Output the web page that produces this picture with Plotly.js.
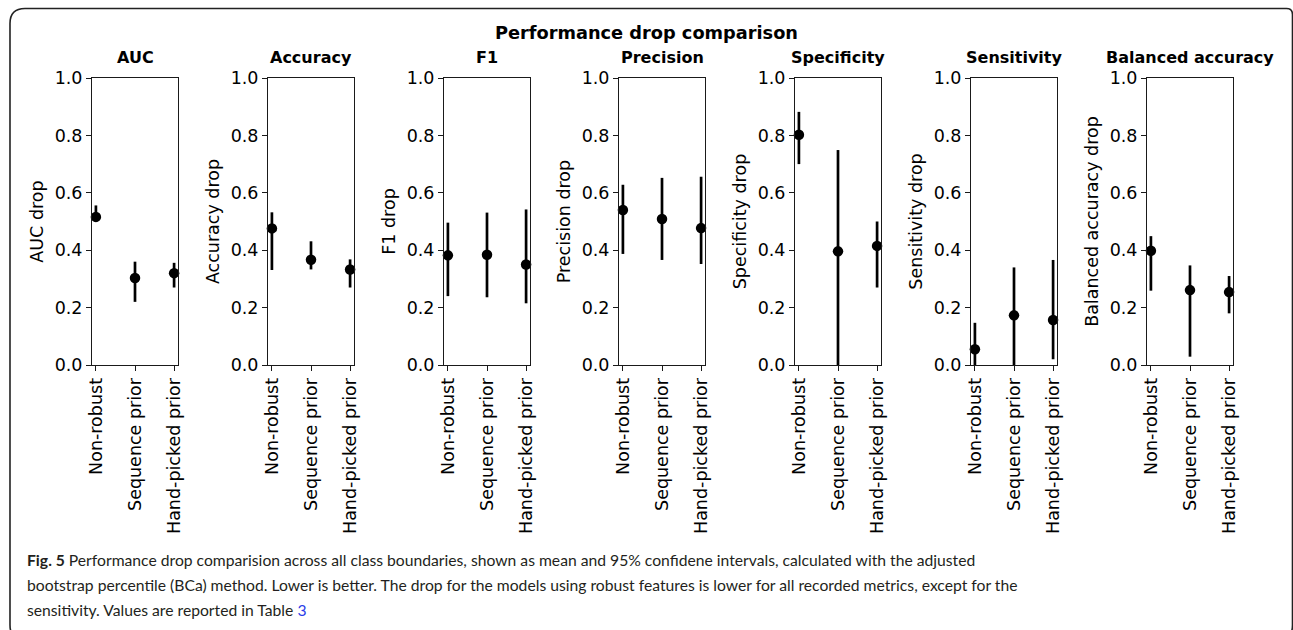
<!DOCTYPE html>
<html>
<head>
<meta charset="utf-8">
<script src="https://cdn.plot.ly/plotly-3.0.1.min.js"></script>
<style>html,body{margin:0;padding:0;background:#fff;}#chart{width:1293px;height:630px;}</style>
</head>
<body>
<div id="chart"></div>
<script>
// ---- Data ----
const categories = ["Non-robust", "Sequence prior", "Hand-picked prior"];
const metricNames = ["AUC", "Accuracy", "F1", "Precision", "Specificity", "Sensitivity", "Balanced accuracy"];
const yTitles = ["AUC drop", "Accuracy drop", "F1 drop", "Precision drop", "Specificity drop", "Sensitivity drop", "Balanced accuracy drop"];

const aucMean = [0.516, 0.303, 0.320];
const aucLow  = [0.500, 0.220, 0.270];
const aucHigh = [0.556, 0.360, 0.356];

const accMean = [0.476, 0.367, 0.333];
const accLow  = [0.331, 0.333, 0.270];
const accHigh = [0.532, 0.431, 0.368];

const f1Mean = [0.382, 0.384, 0.350];
const f1Low  = [0.240, 0.236, 0.215];
const f1High = [0.496, 0.531, 0.542];

const precMean = [0.540, 0.509, 0.477];
const precLow  = [0.387, 0.366, 0.352];
const precHigh = [0.628, 0.652, 0.656];

const specMean = [0.802, 0.396, 0.415];
const specLow  = [0.700, 0.000, 0.270];
const specHigh = [0.882, 0.749, 0.500];

const sensMean = [0.055, 0.173, 0.157];
const sensLow  = [0.000, 0.000, 0.020];
const sensHigh = [0.147, 0.340, 0.366];

const balMean = [0.398, 0.261, 0.254];
const balLow  = [0.259, 0.029, 0.180];
const balHigh = [0.449, 0.347, 0.310];

const yTickVals = [0, 0.2, 0.4, 0.6, 0.8, 1.0];
const yTickText = ["0.0", "0.2", "0.4", "0.6", "0.8", "1.0"];

const mainTitle = "Performance drop comparison";
const captionLines = [
  "<b>Fig. 5</b> Performance drop comparision across all class boundaries, shown as mean and 95% confidene intervals, calculated with the adjusted",
  "bootstrap percentile (BCa) method. Lower is better. The drop for the models using robust features is lower for all recorded metrics, except for the",
  "sensitivity. Values are reported in Table <span style=\"color:#2b3de8\">3</span>"
];

// ---- Build ----
const W = 1293, H = 630;
const means = [aucMean, accMean, f1Mean, precMean, specMean, sensMean, balMean];
const lows  = [aucLow, accLow, f1Low, precLow, specLow, sensLow, balLow];
const highs = [aucHigh, accHigh, f1High, precHigh, specHigh, sensHigh, balHigh];

const FONT = "DejaVu Sans";
const panelLeft0 = 92, panelStep = 175.83, panelW = 86;
const plotTop = 78, plotBottom = 365;

const traces = [];
const layout = {
  width: W, height: H,
  margin: {l: 0, r: 0, t: 0, b: 0, pad: 0},
  paper_bgcolor: "#fff", plot_bgcolor: "#fff",
  showlegend: false,
  font: {family: FONT, color: "#000", size: 17.5},
  title: {
    text: "<b>" + mainTitle + "</b>",
    x: 0.5, xref: "paper", xanchor: "center",
    y: 1 - 32.5 / H, yref: "container", yanchor: "middle",
    font: {family: FONT, size: 17.75, color: "#000"}
  },
  annotations: [],
  shapes: []
};

metricNames.forEach((name, i) => {
  const n = i + 1;
  const sfx = n === 1 ? "" : String(n);
  const left = Math.round(panelLeft0 + i * panelStep);
  const x0 = left / W, x1 = (left + panelW) / W;
  const m = means[i];
  traces.push({
    type: "scatter", mode: "markers",
    x: categories, y: m,
    xaxis: "x" + sfx, yaxis: "y" + sfx,
    marker: {color: "#000", size: 10.5},
    error_y: {
      type: "data", symmetric: false,
      array: highs[i].map((h, k) => h - m[k]),
      arrayminus: lows[i].map((l, k) => m[k] - l),
      color: "#000", thickness: 2.7, width: 0
    },
    cliponaxis: false,
    hoverinfo: "skip"
  });
  layout["xaxis" + sfx] = {
    domain: [x0, x1], anchor: "y" + sfx,
    type: "category", range: [-0.1, 2.1],
    showline: true, mirror: true, linecolor: "#1a1a1a", linewidth: 1,
    ticks: "outside", ticklen: 5, tickwidth: 1, tickcolor: "#1a1a1a",
    tickangle: -90, showgrid: false, zeroline: false,
    tickfont: {family: FONT, size: 17.5, color: "#000"},
    fixedrange: true
  };
  layout["yaxis" + sfx] = {
    domain: [1 - plotBottom / H, 1 - plotTop / H], anchor: "x" + sfx,
    range: [0, 1],
    tickvals: yTickVals, ticktext: yTickText,
    showline: true, mirror: true, linecolor: "#1a1a1a", linewidth: 1,
    ticks: "outside", ticklen: 5, tickwidth: 1, tickcolor: "#1a1a1a",
    showgrid: false, zeroline: false,
    tickfont: {family: FONT, size: 17.5, color: "#000"},
    title: {text: yTitles[i], font: {family: FONT, size: 17.5, color: "#000"}, standoff: 6},
    fixedrange: true
  };
  layout.annotations.push({
    text: "<b>" + name + "</b>",
    xref: "paper", yref: "paper",
    x: (x0 + x1) / 2, y: 1 - 57 / H,
    xanchor: "center", yanchor: "middle", showarrow: false,
    font: {family: FONT, size: 16, color: "#000"}
  });
});

// caption
captionLines.forEach((line, k) => {
  layout.annotations.push({
    text: line,
    xref: "paper", yref: "paper",
    x: 25 / W, y: 1 - (560 + k * 25) / H,
    xanchor: "left", yanchor: "middle", showarrow: false, align: "left",
    font: {family: "Lato", size: 15.7, color: "#231f20"}
  });
});

// rounded frame (right and bottom edges run off the picture, as in the reference)
(function () {
  const bx0 = 10, bx1 = 1292.5, by0 = 8.5, by1 = 640, r = 15;
  const px = v => (v / W).toFixed(5);
  const py = v => (1 - v / H).toFixed(5);
  const path =
    "M" + px(bx0 + r) + "," + py(by0) +
    " L" + px(bx1 - 6) + "," + py(by0) +
    " Q" + px(bx1) + "," + py(by0) + " " + px(bx1) + "," + py(by0 + 6) +
    " L" + px(bx1) + "," + py(by1 - r) +
    " Q" + px(bx1) + "," + py(by1) + " " + px(bx1 - r) + "," + py(by1) +
    " L" + px(bx0 + r) + "," + py(by1) +
    " Q" + px(bx0) + "," + py(by1) + " " + px(bx0) + "," + py(by1 - r) +
    " L" + px(bx0) + "," + py(by0 + r) +
    " Q" + px(bx0) + "," + py(by0) + " " + px(bx0 + r) + "," + py(by0) + " Z";
  layout.shapes.push({type: "path", xref: "paper", yref: "paper", path: path,
    line: {color: "#222", width: 1.6}, fillcolor: "rgba(0,0,0,0)", layer: "below"});
})();

Plotly.newPlot("chart", traces, layout, {displayModeBar: false});
</script>
</body>
</html>
